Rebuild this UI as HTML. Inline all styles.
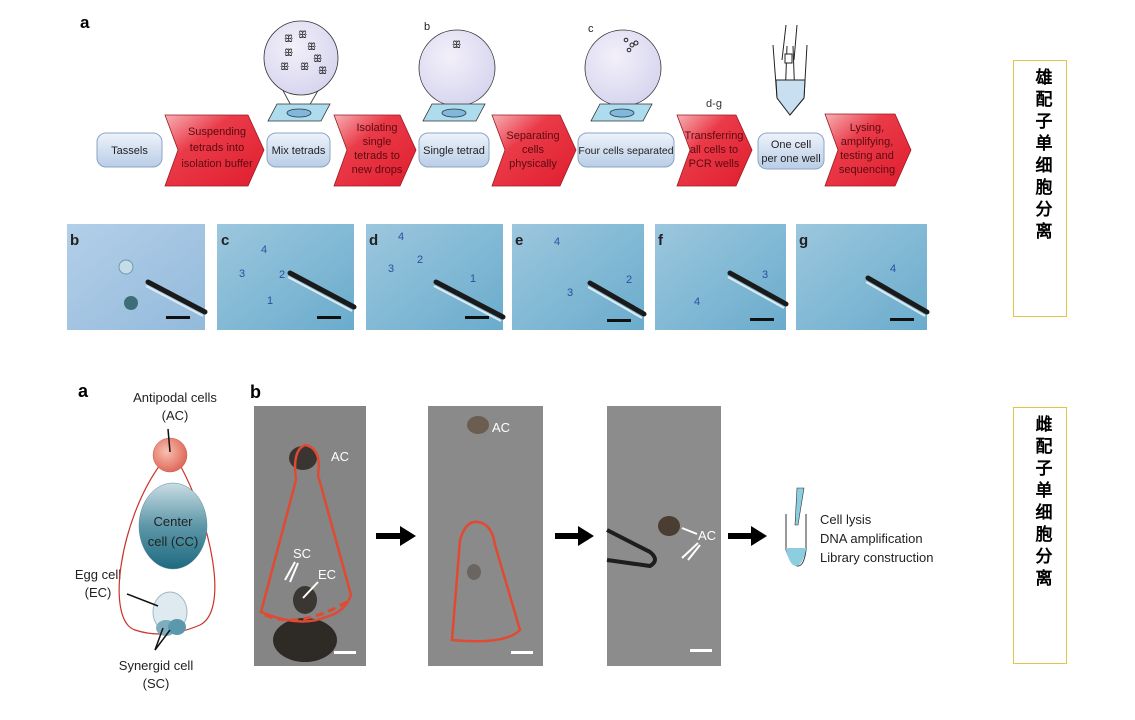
<!DOCTYPE html>
<html><head><meta charset="utf-8"><style>
html,body{margin:0;padding:0;background:#fff;}
svg{display:block;}
text{font-family:"Liberation Sans",Arial,sans-serif;}
.cn{font-family:"Liberation Serif","Noto Serif CJK SC",serif;font-weight:bold;font-size:17px;fill:#000;}
</style></head><body>
<svg width="1135" height="720" viewBox="0 0 1135 720" xmlns="http://www.w3.org/2000/svg">
<defs>
<linearGradient id="pill" x1="0" y1="0" x2="0" y2="1"><stop offset="0" stop-color="#eef3fb"/><stop offset="1" stop-color="#b9cde6"/></linearGradient>
<linearGradient id="red" x1="0" y1="0" x2="1" y2="1"><stop offset="0" stop-color="#f7b0b4"/><stop offset="0.35" stop-color="#ea3a48"/><stop offset="1" stop-color="#e01e2e"/></linearGradient>
<radialGradient id="circ" cx="0.4" cy="0.35" r="0.7"><stop offset="0" stop-color="#f3f0fa"/><stop offset="1" stop-color="#d6d4ee"/></radialGradient>
<linearGradient id="cc" x1="0" y1="0" x2="0" y2="1"><stop offset="0" stop-color="#c9dde4"/><stop offset="0.5" stop-color="#5d97a8"/><stop offset="1" stop-color="#1e6a80"/></linearGradient>
<radialGradient id="ac" cx="0.4" cy="0.4" r="0.6"><stop offset="0" stop-color="#f8c0b0"/><stop offset="1" stop-color="#e06b5c"/></radialGradient>
<linearGradient id="mic" x1="0" y1="0" x2="1" y2="1"><stop offset="0" stop-color="#9cc7de"/><stop offset="1" stop-color="#6aaccc"/></linearGradient>
<linearGradient id="micb" x1="0" y1="0" x2="1" y2="1"><stop offset="0" stop-color="#b3cfe9"/><stop offset="1" stop-color="#93badb"/></linearGradient>
</defs>

<!-- top panel a -->
<text x="80" y="28" font-size="17" font-weight="bold">a</text>

<!-- pills -->
<g font-size="11" text-anchor="middle" fill="#222">
<rect x="97" y="133" width="65" height="34" rx="9" fill="url(#pill)" stroke="#8aa4c4"/>
<text x="129.5" y="154">Tassels</text>
<rect x="267" y="133" width="63" height="34" rx="9" fill="url(#pill)" stroke="#8aa4c4"/>
<text x="298.5" y="154">Mix tetrads</text>
<rect x="419" y="133" width="70" height="34" rx="9" fill="url(#pill)" stroke="#8aa4c4"/>
<text x="454" y="154">Single tetrad</text>
<rect x="578" y="133" width="96" height="34" rx="9" fill="url(#pill)" stroke="#8aa4c4"/>
<text x="626" y="154" font-size="10.5">Four cells separated</text>
<rect x="758" y="133" width="66" height="36" rx="9" fill="url(#pill)" stroke="#8aa4c4"/>
<text x="791" y="148">One cell</text><text x="791" y="162">per one well</text>
</g>

<!-- chevrons -->
<g fill="url(#red)" stroke="#9a1a22" stroke-width="0.8">
<path d="M165,115 H248 L264,150 L248,186 H165 L178,150 Z"/>
<path d="M334,115 H400 L416,150 L400,186 H334 L347,150 Z"/>
<path d="M492,115 H560 L576,150 L560,186 H492 L505,150 Z"/>
<path d="M677,115 H736 L752,150 L736,186 H677 L690,150 Z"/>
<path d="M825,114 H895 L911,150 L895,186 H825 L838,150 Z"/>
</g>
<g font-size="11" text-anchor="middle" fill="#5a0a10">
<text x="217" y="135">Suspending</text><text x="217" y="151">tetrads into</text><text x="217" y="167">isolation buffer</text>
<text x="377" y="131">Isolating</text><text x="377" y="145">single</text><text x="377" y="159">tetrads to</text><text x="377" y="173">new drops</text>
<text x="533" y="139">Separating</text><text x="533" y="153">cells</text><text x="533" y="167">physically</text>
<text x="714" y="139">Transferring</text><text x="714" y="153">all cells to</text><text x="714" y="167">PCR wells</text>
<text x="867" y="131">Lysing,</text><text x="867" y="145">amplifying,</text><text x="867" y="159">testing and</text><text x="867" y="173">sequencing</text>
</g>
<text x="714" y="107" font-size="11" text-anchor="middle" fill="#333">d-g</text>

<!-- magnifier circles + slides -->
<g stroke="#333" stroke-width="0.8">
<g>
<line x1="272" y1="70" x2="295" y2="113"/><line x1="330" y1="70" x2="305" y2="113"/>
<circle cx="301" cy="58" r="37" fill="url(#circ)"/>
<path d="M277,104 H330 L321,121 H268 Z" fill="#aedcef"/>
<ellipse cx="299" cy="113" rx="12" ry="4" fill="#7fb8dc"/>
</g>
<g>
<line x1="427" y1="80" x2="450" y2="113"/><line x1="487" y1="80" x2="462" y2="113"/>
<circle cx="457" cy="68" r="38" fill="url(#circ)"/>
<path d="M432,104 H485 L476,121 H423 Z" fill="#aedcef"/>
<ellipse cx="454" cy="113" rx="12" ry="4" fill="#7fb8dc"/>
</g>
<g>
<line x1="593" y1="80" x2="618" y2="113"/><line x1="653" y1="80" x2="630" y2="113"/>
<circle cx="623" cy="68" r="38" fill="url(#circ)"/>
<path d="M600,104 H652 L643,121 H591 Z" fill="#aedcef"/>
<ellipse cx="622" cy="113" rx="12" ry="4" fill="#7fb8dc"/>
</g>
</g>
<g font-size="10" fill="#222">
<text x="284" y="42">ꕥ</text><text x="298" y="38">ꕥ</text><text x="307" y="50">ꕥ</text><text x="284" y="56">ꕥ</text><text x="313" y="62">ꕥ</text><text x="280" y="70">ꕥ</text><text x="300" y="70">ꕥ</text><text x="318" y="74">ꕥ</text>
<text x="452" y="48">ꕥ</text>
<text x="424" y="30" font-size="11">b</text><text x="588" y="32" font-size="11">c</text>
<circle cx="626" cy="40" r="1.8" fill="none" stroke="#222"/><circle cx="632" cy="45" r="2" fill="none" stroke="#222"/><circle cx="636" cy="43" r="2" fill="none" stroke="#222"/><circle cx="629" cy="50" r="1.8" fill="none" stroke="#222"/>
</g>
<!-- tube top -->
<g stroke="#222" stroke-width="1">
<path d="M787,46 L785,100 L790,113 L795,100 L793,46" fill="none"/>
<path d="M773,45 L777,98 L790,115 L804,98 L807,45" fill="none"/>
<path d="M776,80 H805 L804,98 L790,115 L777,98 Z" fill="#c7dff1"/>
<line x1="786" y1="25" x2="782" y2="60"/><line x1="797" y1="25" x2="794" y2="60"/>
<rect x="785" y="54" width="7" height="9" fill="#fff"/>
</g>

<!-- micro row -->
<g>
<rect x="67" y="224" width="138" height="106" fill="url(#micb)"/>
<rect x="217" y="224" width="137" height="106" fill="url(#mic)"/>
<rect x="366" y="224" width="137" height="106" fill="url(#mic)"/>
<rect x="512" y="224" width="132" height="106" fill="url(#mic)"/>
<rect x="655" y="224" width="131" height="106" fill="url(#mic)"/>
<rect x="796" y="224" width="131" height="106" fill="url(#mic)"/>
</g>
<g stroke="#1a1a1a" stroke-width="5" stroke-linecap="round">
<line x1="148" y1="282" x2="205" y2="312"/><line x1="290" y1="273" x2="354" y2="307"/>
<line x1="436" y1="282" x2="503" y2="317"/><line x1="590" y1="283" x2="644" y2="314"/>
<line x1="730" y1="273" x2="786" y2="304"/><line x1="868" y1="278" x2="927" y2="312"/>
</g>
<g stroke="#dfeaf0" stroke-width="2">
<line x1="146" y1="286" x2="203" y2="316"/><line x1="288" y1="277" x2="352" y2="311"/>
<line x1="434" y1="286" x2="501" y2="321"/><line x1="588" y1="287" x2="642" y2="318"/>
<line x1="728" y1="277" x2="784" y2="308"/><line x1="866" y1="282" x2="925" y2="316"/>
</g>
<g fill="#111">
<rect x="166" y="316" width="24" height="3"/><rect x="317" y="316" width="24" height="3"/><rect x="465" y="316" width="24" height="3"/>
<rect x="607" y="319" width="24" height="3"/><rect x="750" y="318" width="24" height="3"/><rect x="890" y="318" width="24" height="3"/>
</g>
<g font-size="15" font-weight="bold" fill="#222">
<text x="70" y="245">b</text><text x="221" y="245">c</text><text x="369" y="245">d</text><text x="515" y="245">e</text><text x="658" y="245">f</text><text x="799" y="245">g</text>
</g>
<circle cx="126" cy="267" r="7" fill="#c5dde8" stroke="#6a9aaa"/>
<circle cx="131" cy="303" r="7" fill="#3d6e78"/>
<g font-size="11" fill="#2a4fa0">
<text x="261" y="253">4</text><text x="239" y="277">3</text><text x="279" y="278">2</text><text x="267" y="304">1</text>
<text x="398" y="240">4</text><text x="388" y="272">3</text><text x="417" y="263">2</text><text x="470" y="282">1</text>
<text x="554" y="245">4</text><text x="567" y="296">3</text><text x="626" y="283">2</text>
<text x="762" y="278">3</text><text x="694" y="305">4</text><text x="890" y="272">4</text>
</g>

<!-- bottom a -->
<text x="78" y="397" font-size="18" font-weight="bold">a</text>
<g font-size="13" text-anchor="middle" fill="#222">
<text x="175" y="402">Antipodal cells</text><text x="175" y="420">(AC)</text>
<text x="98" y="579">Egg cell</text><text x="98" y="597">(EC)</text>
<text x="156" y="670">Synergid cell</text><text x="156" y="688">(SC)</text>
</g>
<path d="M160,465 C120,520 105,620 135,630 Q165,640 200,625 C230,610 210,520 180,465 Z" fill="none" stroke="#c8342a" stroke-width="1.2"/>
<circle cx="170" cy="455" r="17" fill="url(#ac)" stroke="#c06050" stroke-width="0.5"/>
<line x1="168" y1="429" x2="170" y2="452" stroke="#111" stroke-width="1.5"/>
<ellipse cx="173" cy="526" rx="34" ry="43" fill="url(#cc)" stroke="#5a8898" stroke-width="0.5"/>
<text x="173" y="526" font-size="13" text-anchor="middle" fill="#222">Center</text>
<text x="173" y="546" font-size="13" text-anchor="middle" fill="#222">cell (CC)</text>
<ellipse cx="170" cy="612" rx="17" ry="20" fill="#dfeaf0" stroke="#a0b8c4"/>
<ellipse cx="166" cy="628" rx="10" ry="8" fill="#7eaebe"/><ellipse cx="177" cy="627" rx="9" ry="8" fill="#5a98ac"/>
<line x1="127" y1="594" x2="158" y2="606" stroke="#111" stroke-width="1.5"/>
<line x1="155" y1="650" x2="163" y2="628" stroke="#111" stroke-width="1.5"/>
<line x1="155" y1="650" x2="170" y2="630" stroke="#111" stroke-width="1.5"/>

<!-- bottom b -->
<text x="250" y="398" font-size="18" font-weight="bold">b</text>
<rect x="254" y="406" width="112" height="260" fill="#858585"/>
<rect x="428" y="406" width="115" height="260" fill="#8a8a8a"/>
<rect x="607" y="406" width="114" height="260" fill="#8c8c8c"/>
<ellipse cx="303" cy="458" rx="14" ry="12" fill="#3a3530"/>
<ellipse cx="305" cy="640" rx="32" ry="22" fill="#2e2a26"/>
<ellipse cx="305" cy="600" rx="12" ry="14" fill="#3a3632"/>
<path d="M261,612 L296,480 Q292,450 305,445 Q322,448 318,475 L351,595 Q345,612 326,617 Q300,628 261,612 Z" fill="none" stroke="#e04a32" stroke-width="2.5"/>
<path d="M265,615 Q300,630 350,600" fill="none" stroke="#e04a32" stroke-width="3" stroke-dasharray="8,5"/>
<ellipse cx="478" cy="425" rx="11" ry="9" fill="#6b5e50"/>
<path d="M452,640 L460,540 Q466,520 478,522 Q492,524 495,545 L520,630 Q505,645 452,640 Z" fill="none" stroke="#e04a32" stroke-width="2.5"/>
<ellipse cx="474" cy="572" rx="7" ry="8" fill="#6a6560"/>
<ellipse cx="669" cy="526" rx="11" ry="10" fill="#4a3e32"/>
<path d="M607,530 L650,552 Q660,560 650,566 L607,560" fill="none" stroke="#1e1e1e" stroke-width="4"/>
<g fill="#fff" font-size="13">
<text x="331" y="461">AC</text><text x="492" y="432">AC</text><text x="698" y="540">AC</text>
<text x="293" y="558">SC</text><text x="318" y="579">EC</text>
</g>
<g stroke="#fff" stroke-width="2">
<line x1="295" y1="562" x2="285" y2="580"/><line x1="298" y1="563" x2="290" y2="582"/>
<line x1="318" y1="582" x2="303" y2="598"/>
<line x1="682" y1="528" x2="697" y2="534"/><line x1="698" y1="543" x2="682" y2="558"/><line x1="700" y1="545" x2="688" y2="560"/>
<rect x="334" y="651" width="22" height="3" stroke="none" fill="#fff"/>
<rect x="511" y="651" width="22" height="3" stroke="none" fill="#fff"/>
<rect x="690" y="649" width="22" height="3" stroke="none" fill="#fff"/>
</g>
<g fill="#000">
<path d="M376,533 H400 V526 L416,536 L400,546 V539 H376 Z"/>
<path d="M555,533 H578 V526 L594,536 L578,546 V539 H555 Z"/>
<path d="M728,533 H751 V526 L767,536 L751,546 V539 H728 Z"/>
</g>
<path d="M786,514 V550 Q792,566 798,566 Q804,566 806,550 V514" fill="none" stroke="#333"/>
<path d="M786,548 H806 V550 Q802,566 796,566 Q790,566 786,550 Z" fill="#8ccde0"/>
<path d="M797,488 L804,488 L798,525 L795,525 Z" fill="#8ccde0" stroke="#333" stroke-width="0.6"/>
<g font-size="13" fill="#222">
<text x="820" y="524">Cell lysis</text><text x="820" y="543">DNA amplification</text><text x="820" y="562">Library construction</text>
</g>

<!-- right yellow boxes -->
<rect x="1013.5" y="60.5" width="53" height="256" fill="#fff" stroke="#e2c44a"/>
<rect x="1013.5" y="407.5" width="53" height="256" fill="#fff" stroke="#e2c44a"/>
<g class="cn" text-anchor="middle">
<text x="1044" y="83">雄</text><text x="1044" y="105">配</text><text x="1044" y="127">子</text><text x="1044" y="149">单</text><text x="1044" y="171">细</text><text x="1044" y="193">胞</text><text x="1044" y="215">分</text><text x="1044" y="237">离</text>
<text x="1044" y="430">雌</text><text x="1044" y="452">配</text><text x="1044" y="474">子</text><text x="1044" y="496">单</text><text x="1044" y="518">细</text><text x="1044" y="540">胞</text><text x="1044" y="562">分</text><text x="1044" y="584">离</text>
</g>
</svg>
</body></html>
